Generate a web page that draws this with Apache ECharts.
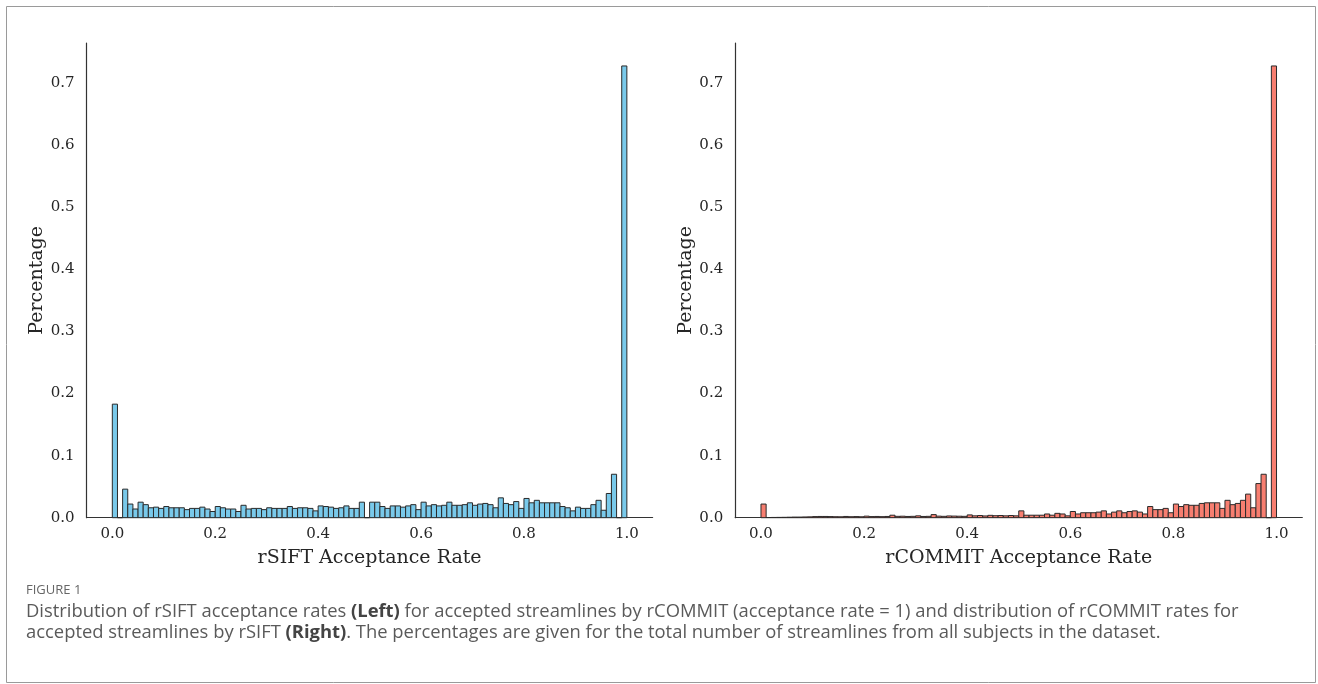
<!DOCTYPE html>
<html>
<head>
<meta charset="utf-8">
<title>Figure 1</title>
<script src="https://cdn.jsdelivr.net/npm/echarts@6.0.0/dist/echarts.min.js"></script>
<style>
html, body { margin: 0; padding: 0; background: #fff; }
#main { width: 1318px; height: 684px; }
</style>
</head>
<body>
<div id="main"></div>
<script>
// histogram bins: 100 bins of 0.01 from 0.0
var binMin = 0;
var binWidth = 0.01;

// left: rSIFT acceptance rate (share of streamlines per bin)
var siftPct = [
  0.183, 0, 0.046, 0.022, 0.014, 0.025, 0.021, 0.016, 0.017, 0.015,
  0.018, 0.016, 0.016, 0.016, 0.013, 0.015, 0.015, 0.017, 0.014, 0.010,
  0.018, 0.016, 0.014, 0.014, 0.010, 0.020, 0.014, 0.015, 0.015, 0.013,
  0.016, 0.015, 0.015, 0.015, 0.018, 0.015, 0.016, 0.016, 0.015, 0.011,
  0.019, 0.018, 0.017, 0.015, 0.016, 0.019, 0.015, 0.015, 0.025, 0,
  0.025, 0.025, 0.018, 0.015, 0.019, 0.019, 0.017, 0.019, 0.021, 0.013,
  0.025, 0.019, 0.021, 0.019, 0.020, 0.025, 0.020, 0.020, 0.021, 0.024,
  0.020, 0.022, 0.023, 0.021, 0.016, 0.032, 0.023, 0.021, 0.026, 0.015,
  0.031, 0.024, 0.028, 0.024, 0.024, 0.024, 0.024, 0.018, 0.016, 0.011,
  0.017, 0.015, 0.015, 0.021, 0.028, 0.012, 0.039, 0.070, 0, 0.728
];

// right: rCOMMIT acceptance rate
var commitPct = [
  0.022, 0.0003, 0.0004, 0.0005, 0.0006, 0.0008, 0.0010, 0.0010, 0.0012, 0.0014,
  0.0018, 0.0020, 0.0020, 0.0018, 0.0016, 0.0015, 0.0020, 0.0016, 0.0018, 0.0015,
  0.0025, 0.0018, 0.0020, 0.0017, 0.0020, 0.0040, 0.0022, 0.0024, 0.0020, 0.0022,
  0.0030, 0.0020, 0.0022, 0.0050, 0.0025, 0.0022, 0.0028, 0.0026, 0.0024, 0.0022,
  0.0045, 0.0030, 0.0035, 0.0028, 0.0038, 0.0032, 0.0035, 0.0030, 0.0035, 0.0030,
  0.011, 0.004, 0.004, 0.004, 0.004, 0.006, 0.004, 0.007, 0.006, 0.003,
  0.010, 0.006, 0.008, 0.008, 0.008, 0.009, 0.011, 0.006, 0.009, 0.011,
  0.008, 0.010, 0.011, 0.009, 0.006, 0.018, 0.013, 0.013, 0.015, 0.008,
  0.022, 0.018, 0.021, 0.020, 0.020, 0.023, 0.024, 0.024, 0.024, 0.015,
  0.028, 0.021, 0.023, 0.028, 0.038, 0.016, 0.055, 0.070, 0, 0.728
];

var xTicks = [0, 0.2, 0.4, 0.6, 0.8, 1.0];
var yTicks = [0, 0.1, 0.2, 0.3, 0.4, 0.5, 0.6, 0.7];

var serif = 'DejaVu Serif';
var inkColor = '#262626';

function toBins(list) {
  return list.map(function (v, i) { return [binMin + i * binWidth, v]; });
}

// one rect per bin, edges through the axis scales
function binRenderer(fill) {
  return function (params, api) {
    var x0 = api.value(0), h = api.value(1);
    var p0 = api.coord([x0, h]);
    var p1 = api.coord([x0 + binWidth, 0]);
    return {
      type: 'rect',
      shape: { x: p0[0], y: p0[1], width: p1[0] - p0[0], height: p1[1] - p0[1] },
      style: { fill: fill, stroke: '#2a2a2a', lineWidth: 1 }
    };
  };
}

function xAxisOf(idx, name) {
  return {
    gridIndex: idx, type: 'value', min: -0.05, max: 1.05,
    name: name, nameLocation: 'middle', nameGap: 31,
    nameTextStyle: { fontFamily: serif, fontSize: 19, color: inkColor },
    axisLine: { show: true, onZero: false, lineStyle: { color: '#333', width: 1.2 } },
    axisTick: { show: false },
    splitLine: { show: false },
    axisLabel: {
      customValues: xTicks, margin: 9,
      fontFamily: serif, fontSize: 15, color: inkColor,
      formatter: function (v) { return v.toFixed(1); }
    }
  };
}

function yAxisOf(idx) {
  return {
    gridIndex: idx, type: 'value', min: 0, max: 0.765,
    name: 'Percentage', nameLocation: 'middle', nameGap: 40,
    nameTextStyle: { fontFamily: serif, fontSize: 19, color: inkColor },
    axisLine: { show: true, onZero: false, lineStyle: { color: '#333', width: 1.2 } },
    axisTick: { show: false },
    splitLine: { show: false },
    axisLabel: {
      customValues: yTicks, margin: 12,
      fontFamily: serif, fontSize: 15, color: inkColor,
      formatter: function (v) { return v.toFixed(1); }
    }
  };
}

var chart = echarts.init(document.getElementById('main'));

chart.setOption({
  backgroundColor: '#fff',
  animation: false,
  grid: [
    { left: 86.6, right: 665.4, top: 43, bottom: 166.3 },
    { left: 735.2, right: 15.7, top: 43, bottom: 166.3 }
  ],
  xAxis: [xAxisOf(0, 'rSIFT Acceptance Rate'), xAxisOf(1, 'rCOMMIT Acceptance Rate')],
  yAxis: [yAxisOf(0), yAxisOf(1)],
  series: [
    {
      type: 'custom', xAxisIndex: 0, yAxisIndex: 0,
      renderItem: binRenderer('#79c9ea'),
      encode: { x: 0, y: 1 },
      data: toBins(siftPct)
    },
    {
      type: 'custom', xAxisIndex: 1, yAxisIndex: 1,
      renderItem: binRenderer('#f77e70'),
      encode: { x: 0, y: 1 },
      data: toBins(commitPct)
    }
  ],
  graphic: [
    // frame
    {
      type: 'rect', left: 4, top: 4,
      shape: { width: 1309, height: 676 },
      style: { fill: 'none', stroke: '#9a9a9a', lineWidth: 1 }
    },
    {
      type: 'text', left: 26, top: 584,
      style: { text: 'FIGURE 1', fontFamily: 'Open Sans', fontSize: 13, fill: '#666' }
    },
    {
      type: 'text', left: 26, top: 603,
      style: {
        text: 'Distribution of rSIFT acceptance rates {b|(Left)} for accepted streamlines by rCOMMIT (acceptance rate = 1) and distribution of rCOMMIT rates for',
        fontFamily: 'Open Sans', fontSize: 18.4, fill: '#5a5a5a',
        rich: { b: { fontFamily: 'Open Sans', fontSize: 18.4, fontWeight: 'bold', fill: '#444' } }
      }
    },
    {
      type: 'text', left: 26, top: 624,
      style: {
        text: 'accepted streamlines by rSIFT {b|(Right)}. The percentages are given for the total number of streamlines from all subjects in the dataset.',
        fontFamily: 'Open Sans', fontSize: 18.4, fill: '#5a5a5a',
        rich: { b: { fontFamily: 'Open Sans', fontSize: 18.4, fontWeight: 'bold', fill: '#444' } }
      }
    }
  ]
});
</script>
</body>
</html>
